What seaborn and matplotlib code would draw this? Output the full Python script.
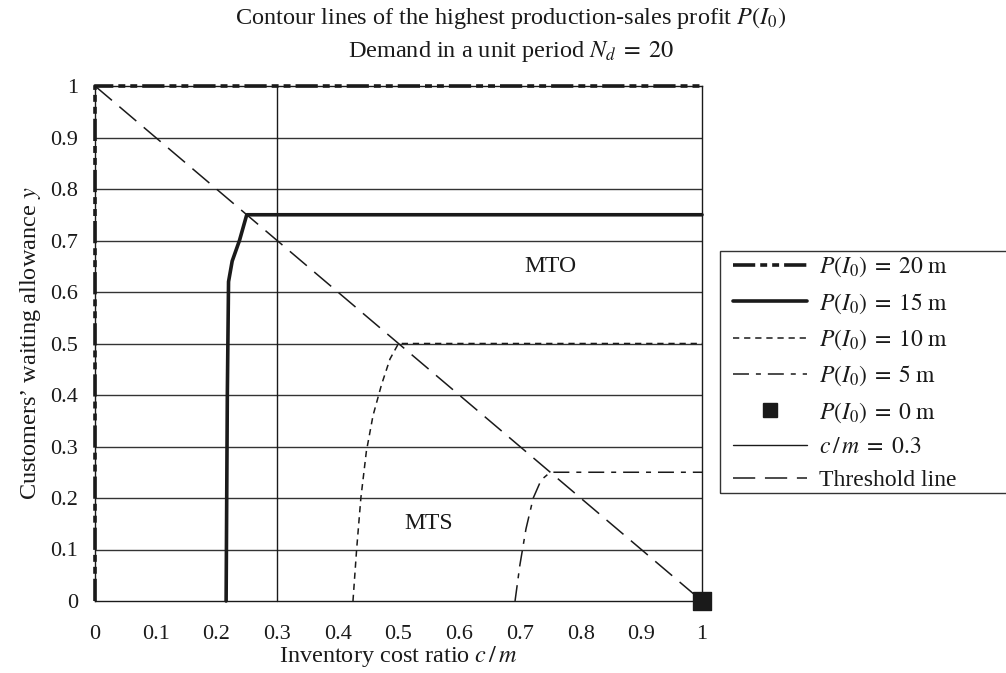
import matplotlib
matplotlib.use("Agg")
import matplotlib.pyplot as plt
from matplotlib.lines import Line2D
from matplotlib.patches import Rectangle
import seaborn as sns
import pandas as pd

# Contour curves of the highest production-sales profit (x = c/m, y = waiting allowance)
p20_x = [0.0, 0.0, 1.0]
p20_y = [0.0, 1.0, 1.0]

p15_x = [0.216, 0.218, 0.220, 0.226, 0.238, 0.250, 1.0]
p15_y = [0.0, 0.40, 0.62, 0.66, 0.70, 0.75, 0.75]

p10_x = [0.425, 0.431, 0.438, 0.447, 0.458, 0.472, 0.486, 0.500, 1.0]
p10_y = [0.0, 0.10, 0.20, 0.29, 0.36, 0.42, 0.47, 0.50, 0.50]

p5_x = [0.692, 0.700, 0.710, 0.722, 0.735, 0.750, 1.0]
p5_y = [0.0, 0.07, 0.14, 0.20, 0.235, 0.25, 0.25]

p0_x = [1.0]
p0_y = [0.0]

ratio_x = [0.3, 0.3]
ratio_y = [0.0, 1.0]

threshold_x = [0.0, 1.0]
threshold_y = [1.0, 0.0]

ticks = [0, 0.1, 0.2, 0.3, 0.4, 0.5, 0.6, 0.7, 0.8, 0.9, 1]
tick_labels = ["0", "0.1", "0.2", "0.3", "0.4", "0.5", "0.6", "0.7", "0.8", "0.9", "1"]

legend_labels = [
    r"$P(I_0)\;=\;20\;\mathrm{m}$",
    r"$P(I_0)\;=\;15\;\mathrm{m}$",
    r"$P(I_0)\;=\;10\;\mathrm{m}$",
    r"$P(I_0)\;=\;5\;\mathrm{m}$",
    r"$P(I_0)\;=\;0\;\mathrm{m}$",
    r"$c\,/\,m\;=\;0.3$",
    "Threshold line",
]

sns.set_theme(style="white")
plt.rcParams["font.family"] = ["Liberation Serif", "DejaVu Serif"]
plt.rcParams["mathtext.fontset"] = "stix"
plt.rcParams["lines.scale_dashes"] = False

ink = "#1a1a1a"
thin = 1.0
thick = 2.6
dash20 = (0, (16, 3.6, 5, 3.6, 5, 3.6))
dash10 = (0, (4.5, 3.5))
dash5 = (0, (11.5, 5, 3.6, 5))
dash_thr = (0, (16, 7))

fig = plt.figure(figsize=(10.06, 6.73), dpi=100)
ax = fig.add_axes([95 / 1006, 1 - 601 / 673, 607 / 1006, 515 / 673])


def draw(xs, ys, lw, ls):
    df = pd.DataFrame({"x": xs, "y": ys})
    sns.lineplot(data=df, x="x", y="y", sort=False, estimator=None, ax=ax,
                 color=ink, linewidth=lw, legend=False)
    line = ax.lines[-1]
    line.set_linestyle(ls)
    line.set_clip_on(False)
    line.set_zorder(4)
    return line


# horizontal grid
for v in ticks[1:-1]:
    ax.axhline(v, color="#333333", linewidth=thin, zorder=1)

draw(ratio_x, ratio_y, thin, "-")
draw(threshold_x, threshold_y, 1.1, dash_thr)
draw(p5_x, p5_y, 1.1, dash5)
draw(p10_x, p10_y, 1.1, dash10)
draw(p15_x, p15_y, thick, "-")
draw(p20_x, p20_y, thick, dash20)

sns.scatterplot(x=p0_x, y=p0_y, ax=ax, marker="s", s=150, color=ink,
                edgecolor=ink, clip_on=False, zorder=6, legend=False)

ax.set_xlim(0, 1)
ax.set_ylim(0, 1)
ax.set_xticks(ticks)
ax.set_xticklabels(tick_labels)
ax.set_yticks(ticks)
ax.set_yticklabels(tick_labels)
ax.tick_params(axis="both", direction="in", length=6, width=0.9, color=ink,
               labelsize=16, labelcolor=ink)
ax.tick_params(axis="x", pad=17)
ax.tick_params(axis="y", length=0, pad=12)
for s in ax.spines.values():
    s.set_color(ink)
    s.set_linewidth(thin)
    s.set_visible(True)

ax.set_xlabel(r"Inventory cost ratio $c\,/\,m$", fontsize=17.5, color=ink)
ax.xaxis.set_label_coords(0.5, -(644 - 601) / 515)
ax.set_ylabel("Customers\u2019 waiting allowance $y$", fontsize=17.5, color=ink)
ax.yaxis.set_label_coords(-52 / 607, 0.5)

ax.text(0.75, 0.65, "MTO", fontsize=17, color=ink, ha="center", va="center")
ax.text(0.55, 0.15, "MTS", fontsize=17, color=ink, ha="center", va="center")

fig.text(0.508, 1 - 18 / 673, r"Contour lines of the highest production-sales profit $P(I_0)$",
         fontsize=17.5, color=ink, ha="center", va="center")
fig.text(0.508, 1 - 52 / 673, r"Demand in a unit period $N_d\;=\;20$",
         fontsize=17.5, color=ink, ha="center", va="center")

handles = [
    Line2D([], [], color=ink, lw=thick, ls=dash20),
    Line2D([], [], color=ink, lw=thick, ls="-"),
    Line2D([], [], color=ink, lw=1.1, ls=dash10),
    Line2D([], [], color=ink, lw=1.1, ls=dash5),
    Line2D([], [], color=ink, ls="none", marker="s", markersize=10),
    Line2D([], [], color=ink, lw=thin, ls="-"),
    Line2D([], [], color=ink, lw=1.1, ls=dash_thr),
]
leg = fig.legend(handles, legend_labels, loc="upper left",
                 bbox_to_anchor=(733 / 1006, 1 - 255 / 673), frameon=False,
                 fontsize=17, handlelength=3.15, handletextpad=0.5,
                 labelspacing=0.5, borderpad=0.0, borderaxespad=0)
for t in leg.get_texts():
    t.set_color(ink)

fig.patches.append(Rectangle((720 / 1006, 1 - 493 / 673), 0.4, 242 / 673,
                             transform=fig.transFigure, fill=False,
                             edgecolor="#333333", linewidth=1.0))

fig.savefig("out.png", dpi=100)
